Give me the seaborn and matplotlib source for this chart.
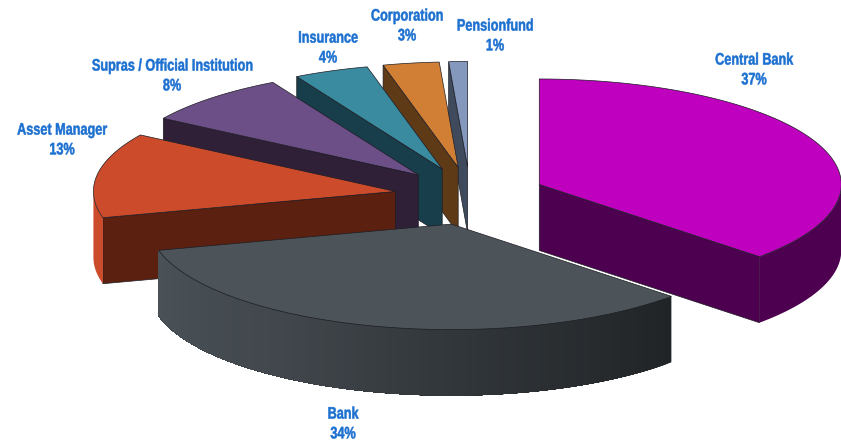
import numpy as np
import matplotlib
matplotlib.use("Agg")
import matplotlib.pyplot as plt
from matplotlib.patches import Polygon
from matplotlib.patheffects import AbstractPathEffect
from matplotlib.transforms import Affine2D
import seaborn as sns

# Holdings by investor type, percent of total, clockwise from twelve o'clock
categories = ["Central Bank", "Bank", "Asset Manager", "Supras / Official Institution",
              "Insurance", "Corporation", "Pensionfund"]
shares = [37, 34, 13, 8, 4, 3, 1]

top_colors = ["#bf00bf", "#4c5459", "#cc4b2b", "#6d4f87", "#3a8aa0", "#d07f35", "#8497bd"]
wall_colors = ["#4d0050", "#3a4045", "#5c2010", "#2f2038", "#173e4a", "#5f3a16", "#3f4a5c"]
rim_colors = [("#4d0050", "#4d0050"), ("#212426", "#2f3438", "#41474c", "#4a5258"),
              ("#cc4b2b", "#cc4b2b"), ("#2f2038", "#2f2038"), ("#173e4a", "#173e4a"),
              ("#5f3a16", "#5f3a16"), ("#3f4a5c", "#3f4a5c")]

# Label centres in figure pixels
label_x = [754, 343, 62, 172, 328, 407, 495]
label_y = [70, 424, 140, 76, 48, 26, 36]

# Pie geometry in figure pixels
HUB = (470.0, 196.0)
RX, RY = 302.0, 105.5
DEPTH = 66.0
EXPLODE = 0.25
EXPLODE_Y_GAIN = 1.1
DRAW_ORDER = [6, 5, 4, 3, 2, 0, 1]
EDGE = "#1d1d24"
TEXT_SQUEEZE = 0.76
TEXT_COLOR = "#1c70d0"

sns.set_theme(style="white")
plt.rcParams["font.family"] = ["Liberation Sans", "DejaVu Sans"]

fig = plt.figure(figsize=(8.41, 4.43), dpi=100, facecolor="white")
ax = fig.add_axes([0, 0, 1, 1])
ax.set_xlim(0, 841)
ax.set_ylim(443, 0)
ax.axis("off")


class Condensed(AbstractPathEffect):
    """Narrow a text's glyphs about a fixed display x and thicken them a little."""

    def __init__(self, x_display, factor, stroke):
        super().__init__()
        self.x_display = x_display
        self.factor = factor
        self.stroke = stroke

    def draw_path(self, renderer, gc, tpath, affine, rgbFace=None):
        squeeze = (Affine2D().translate(-self.x_display, 0)
                   .scale(self.factor, 1).translate(self.x_display, 0))
        gc0 = renderer.new_gc()
        gc0.copy_properties(gc)
        gc0.set_linewidth(self.stroke)
        gc0.set_foreground(rgbFace)
        renderer.draw_path(gc0, tpath, affine + squeeze, rgbFace)
        gc0.restore()


def rim_point(center, theta):
    return center[0] + RX * np.sin(theta), center[1] - RY * np.cos(theta)


def arc(center, a, b, step=np.radians(0.5)):
    n = max(int(abs(b - a) / step), 2)
    th = np.linspace(a, b, n)
    return np.column_stack(rim_point(center, th))


def draw_slice(i, start, stop):
    mid = (start + stop) / 2
    center = (HUB[0] + EXPLODE * RX * np.sin(mid),
              HUB[1] - EXPLODE * RY * EXPLODE_Y_GAIN * np.cos(mid))
    down = np.array([0, DEPTH])
    apex = np.array(center)

    # cut faces that turn towards the viewer
    for angle, visible in ((start, np.sin(start) < 0), (stop, np.sin(stop) > 0)):
        if visible:
            p = np.array(rim_point(center, angle))
            ax.add_patch(Polygon([apex, p, p + down, apex + down], closed=True,
                                 facecolor=wall_colors[i], edgecolor=EDGE, lw=0.5))

    # outer rim on the near half of the ellipse; each strip runs on to the end
    # of the rim and the next one paints over it, which leaves no seams
    a, b = max(start, np.pi / 2), min(stop, 3 * np.pi / 2)
    if b > a:
        n_strips = 120 if len(set(rim_colors[i])) > 1 else 1
        edges = np.linspace(a, b, n_strips + 1)
        strip_colors = sns.blend_palette(list(rim_colors[i]), n_strips)
        for e0, c in zip(edges[:-1], strip_colors):
            upper = arc(center, e0, b)
            ax.add_patch(Polygon(np.vstack([upper, (upper + down)[::-1]]), closed=True,
                                 facecolor=c, edgecolor="none", lw=0))

    # top surface
    outline = np.vstack([[apex], arc(center, start, stop)])
    ax.add_patch(Polygon(outline, closed=True, facecolor=top_colors[i],
                         edgecolor=EDGE, lw=0.5, joinstyle="round"))


fractions = np.array(shares, dtype=float) / sum(shares)
bounds = np.concatenate([[0], np.cumsum(fractions)]) * 2 * np.pi

for i in DRAW_ORDER:
    draw_slice(i, bounds[i], bounds[i + 1])

for name, share, x, y in zip(categories, shares, label_x, label_y):
    txt = ax.text(x, y, f"{name}\n{share}%", ha="center", va="center", color=TEXT_COLOR,
                  fontsize=12, fontweight="bold", linespacing=1.4)
    x_display = ax.transData.transform((x, y))[0]
    txt.set_path_effects([Condensed(x_display, TEXT_SQUEEZE, 0.35)])

fig.savefig("out.png", dpi=100, facecolor="white")
